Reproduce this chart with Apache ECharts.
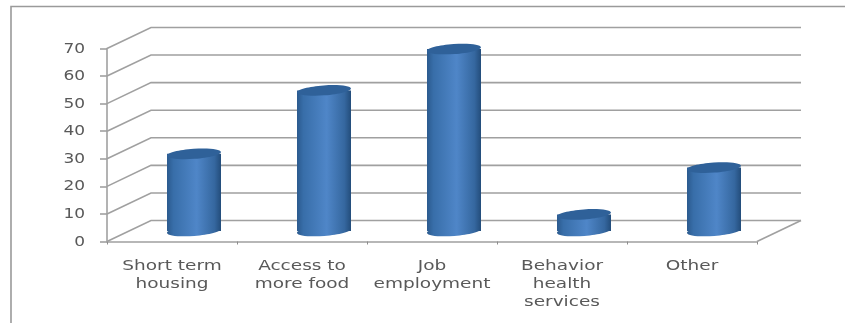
<!DOCTYPE html>
<html>
<head>
<meta charset="utf-8">
<style>html,body{margin:0;padding:0;background:#fff}#c{width:845px;height:323px}</style>
<script src="https://cdn.jsdelivr.net/npm/echarts@6/dist/echarts.min.js"></script>
</head>
<body>
<div id="c"></div>
<script>
const categories = ['Short term\nhousing', 'Access to\nmore food', 'Job\nemployment', 'Behavior\nhealth\nservices', 'Other'];
const values = [28, 51, 66, 6, 23];
const yTicks = [0, 10, 20, 30, 40, 50, 60, 70];

// Perspective offset of the back wall from the front plane of the plot.
const DEPTH_X = 44, DEPTH_Y = -21;
const LINE = '#a0a0a0', TEXT = '#595959', FONT = '13.6px "DejaVu Sans"';
const STRETCH_Y = 1.25, STRETCH_X = 1.36;

const chart = echarts.init(document.getElementById('c'), null, {renderer: 'canvas'});

function walls(params, api) {
  const v = api.value(1);
  const p = api.coord([0, v]);
  const band = api.size([1, 0])[0];
  const left = p[0] - band / 2;
  const right = left + band * categories.length;
  const by = p[1] + DEPTH_Y;
  const pts = [[left, p[1]], [left + DEPTH_X, by], [right + DEPTH_X, by]];
  const style = {stroke: LINE, lineWidth: 1.6, fill: null};
  const children = [{type: 'polyline', shape: {points: pts}, style}];
  if (v === 0) {
    children.push({type: 'line', shape: {x1: right, y1: p[1], x2: right + DEPTH_X, y2: by}, style});
  }
  children.push({
    type: 'text', x: left - 22, y: p[1] + 0.5, scaleX: STRETCH_Y,
    style: {text: String(v), font: FONT, fill: TEXT, align: 'right', verticalAlign: 'middle'}
  });
  return {type: 'group', children};
}

function cylinder(params, api) {
  const idx = api.value(0);
  const top = api.coord([idx, api.value(1)]);
  const base = api.coord([idx, 0]);
  const cx = top[0] + DEPTH_X / 2;
  const yt = top[1] + DEPTH_Y / 2;
  const yb = base[1] + DEPTH_Y / 2;
  const rx = 27, ry = 5;
  const side = {
    type: 'linear', x: 0, y: 0, x2: 1, y2: 0,
    colorStops: [
      {offset: 0, color: '#2b5a8e'}, {offset: 0.12, color: '#386ea9'},
      {offset: 0.55, color: '#4f86c8'}, {offset: 0.88, color: '#35679f'},
      {offset: 1, color: '#234d7b'}
    ]
  };
  const tilt = 0.07;
  return {
    type: 'group',
    children: [
      {type: 'ellipse', originX: cx, originY: yb, rotation: tilt,
        shape: {cx, cy: yb, rx, ry}, style: {fill: side}},
      {type: 'rect', shape: {x: cx - rx, y: yt, width: rx * 2, height: yb - yt}, style: {fill: side}},
      {type: 'ellipse', originX: cx, originY: yt, rotation: tilt,
        shape: {cx, cy: yt, rx, ry}, style: {fill: '#2f6199'}}
    ]
  };
}

function categoryLabel(params, api) {
  const idx = api.value(0);
  const p = api.coord([idx, 0]);
  return {
    type: 'text', x: p[0], y: p[1] + 16, scaleX: STRETCH_X,
    style: {
      text: categories[idx], font: FONT, fill: TEXT, lineHeight: 18,
      align: 'center', verticalAlign: 'top'
    }
  };
}

chart.setOption({
  animation: false,
  backgroundColor: '#ffffff',
  grid: {left: 107, right: 88, top: 48.5, bottom: 81.5},
  xAxis: {
    type: 'category', data: categories,
    axisLine: {lineStyle: {color: LINE, width: 1.6}},
    axisTick: {show: true, length: 3, lineStyle: {color: '#8c8c8c', width: 1}},
    axisLabel: {show: false}, splitLine: {show: false}
  },
  yAxis: {
    type: 'value', min: 0, max: 70, interval: 10,
    axisLine: {show: true, lineStyle: {color: LINE, width: 1.6}},
    axisTick: {show: true, length: 7, lineStyle: {color: LINE, width: 1.6}},
    axisLabel: {show: false}, splitLine: {show: false}
  },
  series: [
    {type: 'custom', silent: true, clip: false, z: 1, renderItem: walls,
      data: yTicks.map(v => [0, v])},
    {type: 'custom', silent: true, clip: false, z: 3, renderItem: cylinder,
      data: values.map((v, i) => [i, v])},
    {type: 'custom', silent: true, clip: false, z: 4, renderItem: categoryLabel,
      data: categories.map((c, i) => [i, 0])}
  ],
  graphic: [
    {type: 'polyline', silent: true, z: 0,
      shape: {points: [[845, 6.5], [11, 6.5], [11, 323]]},
      style: {stroke: '#9a9a9a', lineWidth: 1.6, fill: null}}
  ]
});
</script>
</body>
</html>
